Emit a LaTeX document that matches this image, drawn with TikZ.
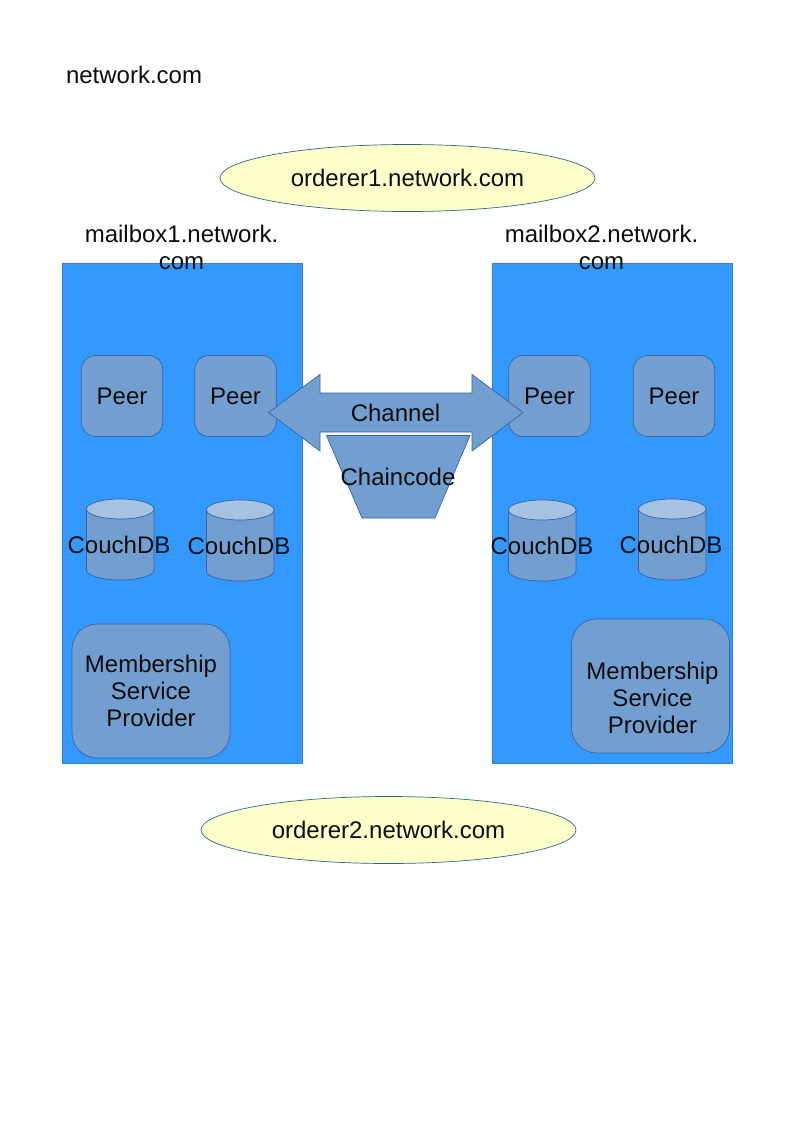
\documentclass[tikz,border=0pt]{standalone}
\usepackage{fontspec}
\setmainfont{Liberation Sans}
\usetikzlibrary{positioning, shapes.geometric}

\definecolor{boxblue}{HTML}{3399FF}
\definecolor{partblue}{HTML}{729FCF}
\definecolor{partline}{HTML}{3465A4}
\definecolor{parttop}{HTML}{A6C2E2}
\definecolor{ordfill}{HTML}{FFFFCC}
\definecolor{ordline}{HTML}{2A6A85}

\tikzset{
    x=1pt, y=-1pt,
    every node/.style={font=\fontsize{24}{27}\selectfont, inner sep=0pt, outer sep=0pt, align=center, text=black!95},
    mailbox/.style={draw=partline!50!boxblue, fill=boxblue, line width=0.8pt, minimum width=240pt, minimum height=499.5pt},
    peer/.style={draw=partline, fill=partblue, line width=0.7pt, rounded corners=14pt, minimum width=81.5pt, minimum height=81pt},
    msp/.style={draw=partline, fill=partblue, line width=0.7pt, rounded corners=25pt, minimum width=158pt, minimum height=134pt},
    orderer/.style={draw=ordline, fill=ordfill, line width=0.7pt, ellipse, minimum width=375pt, minimum height=67pt},
    part/.style={draw=partline, fill=partblue, line width=0.7pt}
}

% x = left edge, y = top of the can
\newcommand{\dbcan}[2]{
    \draw[part] (#1,#2+10) -- (#1,#2+71) arc[start angle=180, end angle=360, x radius=33.75pt, y radius=10pt] -- (#1+67.5,#2+10) -- cycle;
    \draw[part, fill=parttop] (#1+33.75,#2+10) ellipse[x radius=33.75pt, y radius=10pt];
}

\begin{document}
\begin{tikzpicture}
    \useasboundingbox (0,0) rectangle (794,1123);

    \node[anchor=west] (title) at (66,75) {network.com};

    \node[orderer] (ordererA) at (407.5,178) {orderer1.network.com};
    \node[orderer] (ordererB) at (388.5,830) {orderer2.network.com};

    \node[mailbox] (mailboxA) at (182,513.25) {};
    \node[mailbox] (mailboxB) at (612,513.25) {};
    \node (labelA) at (181.5,247.5) {mailbox1.network.\\com};
    \node (labelB) at (601.5,247.5) {mailbox2.network.\\com};

    \node[peer] (peerA) at (122,396) {Peer};
    \node[peer] (peerB) at (235.5,396) {Peer};
    \node[peer] (peerC) at (549.5,396) {Peer};
    \node[peer] (peerD) at (674,396) {Peer};

    % channel arrow and chaincode
    \draw[part] (268.5,412.5) -- (320,374.5) -- (320,393) -- (472,393) -- (472,374.5) -- (523,412.5)
        -- (472,451) -- (472,432) -- (320,432) -- (320,451) -- cycle;
    \node (channel) at (395.5,413) {Channel};
    \draw[part] (326.5,435.5) -- (470,435.5) -- (435,518) -- (362,518) -- cycle;
    \node (chaincode) at (398,477) {Chaincode};

    \dbcan{86.5}{499}
    \dbcan{206.5}{500}
    \dbcan{508.5}{500}
    \dbcan{638.5}{499}
    \node (couchA) at (119,545) {CouchDB};
    \node (couchB) at (239,546) {CouchDB};
    \node (couchC) at (542,546) {CouchDB};
    \node (couchD) at (671,545) {CouchDB};

    \node[msp] (mspA) at (151,691) {Membership\\Service\\Provider};
    \node[msp] (mspB) at (650.5,686) {};
    \node (mspTextB) at (652.5,697.5) {Membership\\Service\\Provider};
\end{tikzpicture}
\end{document}
